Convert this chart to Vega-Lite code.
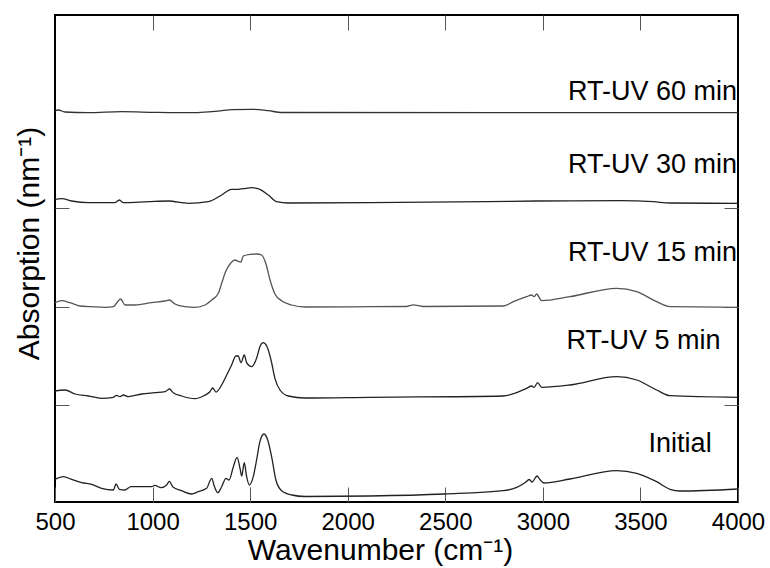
{
  "$schema": "https://vega.github.io/schema/vega-lite/v6.json",
  "width": 683,
  "height": 487,
  "autosize": {"type": "none"},
  "padding": {"left": 55, "top": 15, "right": 32, "bottom": 66},
  "background": "white",
  "config": {
    "view": {"stroke": "black", "strokeWidth": 2},
    "font": "Liberation Sans",
    "axis": {"labelFont": "Liberation Sans", "titleFont": "Liberation Sans", "titleFontWeight": "normal", "labelColor": "black", "titleColor": "black"}
  },
  "datasets": {
    "spectra": [
      {"series": "Initial", "wn": 500, "a": 0.227}, {"series": "Initial", "wn": 543, "a": 0.253}, {"series": "Initial", "wn": 585, "a": 0.227}, {"series": "Initial", "wn": 637, "a": 0.193}, {"series": "Initial", "wn": 688, "a": 0.177}, {"series": "Initial", "wn": 739, "a": 0.137}, {"series": "Initial", "wn": 799, "a": 0.12}, {"series": "Initial", "wn": 813, "a": 0.18}, {"series": "Initial", "wn": 830, "a": 0.127}, {"series": "Initial", "wn": 859, "a": 0.12}, {"series": "Initial", "wn": 889, "a": 0.153}, {"series": "Initial", "wn": 944, "a": 0.153}, {"series": "Initial", "wn": 995, "a": 0.153}, {"series": "Initial", "wn": 1012, "a": 0.167}, {"series": "Initial", "wn": 1043, "a": 0.143}, {"series": "Initial", "wn": 1072, "a": 0.17}, {"series": "Initial", "wn": 1086, "a": 0.207}, {"series": "Initial", "wn": 1103, "a": 0.153}, {"series": "Initial", "wn": 1149, "a": 0.113}, {"series": "Initial", "wn": 1200, "a": 0.08}, {"series": "Initial", "wn": 1234, "a": 0.103}, {"series": "Initial", "wn": 1277, "a": 0.137}, {"series": "Initial", "wn": 1303, "a": 0.237}, {"series": "Initial", "wn": 1316, "a": 0.16}, {"series": "Initial", "wn": 1334, "a": 0.093}, {"series": "Initial", "wn": 1354, "a": 0.153}, {"series": "Initial", "wn": 1376, "a": 0.237}, {"series": "Initial", "wn": 1392, "a": 0.22}, {"series": "Initial", "wn": 1414, "a": 0.353}, {"series": "Initial", "wn": 1433, "a": 0.447}, {"series": "Initial", "wn": 1448, "a": 0.337}, {"series": "Initial", "wn": 1457, "a": 0.26}, {"series": "Initial", "wn": 1470, "a": 0.393}, {"series": "Initial", "wn": 1482, "a": 0.253}, {"series": "Initial", "wn": 1496, "a": 0.17}, {"series": "Initial", "wn": 1516, "a": 0.253}, {"series": "Initial", "wn": 1533, "a": 0.42}, {"series": "Initial", "wn": 1550, "a": 0.603}, {"series": "Initial", "wn": 1571, "a": 0.68}, {"series": "Initial", "wn": 1590, "a": 0.62}, {"series": "Initial", "wn": 1610, "a": 0.453}, {"series": "Initial", "wn": 1632, "a": 0.22}, {"series": "Initial", "wn": 1661, "a": 0.113}, {"series": "Initial", "wn": 1713, "a": 0.07}, {"series": "Initial", "wn": 1781, "a": 0.055}, {"series": "Initial", "wn": 2114, "a": 0.06}, {"series": "Initial", "wn": 2498, "a": 0.08}, {"series": "Initial", "wn": 2797, "a": 0.113}, {"series": "Initial", "wn": 2866, "a": 0.147}, {"series": "Initial", "wn": 2910, "a": 0.195}, {"series": "Initial", "wn": 2930, "a": 0.225}, {"series": "Initial", "wn": 2945, "a": 0.2}, {"series": "Initial", "wn": 2970, "a": 0.26}, {"series": "Initial", "wn": 2985, "a": 0.225}, {"series": "Initial", "wn": 3005, "a": 0.19}, {"series": "Initial", "wn": 3139, "a": 0.23}, {"series": "Initial", "wn": 3378, "a": 0.313}, {"series": "Initial", "wn": 3481, "a": 0.287}, {"series": "Initial", "wn": 3583, "a": 0.203}, {"series": "Initial", "wn": 3652, "a": 0.127}, {"series": "Initial", "wn": 3703, "a": 0.11}, {"series": "Initial", "wn": 4000, "a": 0.13},
      {"series": "RT-UV 5 min", "wn": 500, "a": 1.11}, {"series": "RT-UV 5 min", "wn": 551, "a": 1.12}, {"series": "RT-UV 5 min", "wn": 602, "a": 1.08}, {"series": "RT-UV 5 min", "wn": 671, "a": 1.06}, {"series": "RT-UV 5 min", "wn": 739, "a": 1.037}, {"series": "RT-UV 5 min", "wn": 799, "a": 1.047}, {"series": "RT-UV 5 min", "wn": 816, "a": 1.067}, {"series": "RT-UV 5 min", "wn": 833, "a": 1.053}, {"series": "RT-UV 5 min", "wn": 850, "a": 1.07}, {"series": "RT-UV 5 min", "wn": 876, "a": 1.053}, {"series": "RT-UV 5 min", "wn": 944, "a": 1.08}, {"series": "RT-UV 5 min", "wn": 1012, "a": 1.093}, {"series": "RT-UV 5 min", "wn": 1064, "a": 1.103}, {"series": "RT-UV 5 min", "wn": 1086, "a": 1.13}, {"series": "RT-UV 5 min", "wn": 1106, "a": 1.093}, {"series": "RT-UV 5 min", "wn": 1149, "a": 1.06}, {"series": "RT-UV 5 min", "wn": 1217, "a": 1.033}, {"series": "RT-UV 5 min", "wn": 1260, "a": 1.06}, {"series": "RT-UV 5 min", "wn": 1294, "a": 1.103}, {"series": "RT-UV 5 min", "wn": 1308, "a": 1.14}, {"series": "RT-UV 5 min", "wn": 1325, "a": 1.1}, {"series": "RT-UV 5 min", "wn": 1354, "a": 1.17}, {"series": "RT-UV 5 min", "wn": 1380, "a": 1.27}, {"series": "RT-UV 5 min", "wn": 1405, "a": 1.37}, {"series": "RT-UV 5 min", "wn": 1427, "a": 1.46}, {"series": "RT-UV 5 min", "wn": 1439, "a": 1.46}, {"series": "RT-UV 5 min", "wn": 1453, "a": 1.393}, {"series": "RT-UV 5 min", "wn": 1470, "a": 1.47}, {"series": "RT-UV 5 min", "wn": 1482, "a": 1.393}, {"series": "RT-UV 5 min", "wn": 1508, "a": 1.353}, {"series": "RT-UV 5 min", "wn": 1533, "a": 1.437}, {"series": "RT-UV 5 min", "wn": 1550, "a": 1.553}, {"series": "RT-UV 5 min", "wn": 1567, "a": 1.593}, {"series": "RT-UV 5 min", "wn": 1585, "a": 1.56}, {"series": "RT-UV 5 min", "wn": 1607, "a": 1.42}, {"series": "RT-UV 5 min", "wn": 1627, "a": 1.237}, {"series": "RT-UV 5 min", "wn": 1653, "a": 1.12}, {"series": "RT-UV 5 min", "wn": 1696, "a": 1.06}, {"series": "RT-UV 5 min", "wn": 1781, "a": 1.04}, {"series": "RT-UV 5 min", "wn": 2114, "a": 1.047}, {"series": "RT-UV 5 min", "wn": 2797, "a": 1.06}, {"series": "RT-UV 5 min", "wn": 2866, "a": 1.093}, {"series": "RT-UV 5 min", "wn": 2917, "a": 1.137}, {"series": "RT-UV 5 min", "wn": 2943, "a": 1.16}, {"series": "RT-UV 5 min", "wn": 2955, "a": 1.147}, {"series": "RT-UV 5 min", "wn": 2973, "a": 1.193}, {"series": "RT-UV 5 min", "wn": 2994, "a": 1.147}, {"series": "RT-UV 5 min", "wn": 3139, "a": 1.17}, {"series": "RT-UV 5 min", "wn": 3378, "a": 1.253}, {"series": "RT-UV 5 min", "wn": 3481, "a": 1.22}, {"series": "RT-UV 5 min", "wn": 3583, "a": 1.12}, {"series": "RT-UV 5 min", "wn": 3652, "a": 1.063}, {"series": "RT-UV 5 min", "wn": 4000, "a": 1.047},
      {"series": "RT-UV 15 min", "wn": 500, "a": 1.993}, {"series": "RT-UV 15 min", "wn": 534, "a": 2.013}, {"series": "RT-UV 15 min", "wn": 577, "a": 1.993}, {"series": "RT-UV 15 min", "wn": 628, "a": 1.96}, {"series": "RT-UV 15 min", "wn": 688, "a": 1.953}, {"series": "RT-UV 15 min", "wn": 756, "a": 1.947}, {"series": "RT-UV 15 min", "wn": 799, "a": 1.953}, {"series": "RT-UV 15 min", "wn": 821, "a": 2.003}, {"series": "RT-UV 15 min", "wn": 836, "a": 2.03}, {"series": "RT-UV 15 min", "wn": 859, "a": 1.97}, {"series": "RT-UV 15 min", "wn": 910, "a": 1.97}, {"series": "RT-UV 15 min", "wn": 995, "a": 1.993}, {"series": "RT-UV 15 min", "wn": 1064, "a": 2.01}, {"series": "RT-UV 15 min", "wn": 1086, "a": 2.02}, {"series": "RT-UV 15 min", "wn": 1115, "a": 1.98}, {"series": "RT-UV 15 min", "wn": 1166, "a": 1.953}, {"series": "RT-UV 15 min", "wn": 1217, "a": 1.947}, {"series": "RT-UV 15 min", "wn": 1269, "a": 1.97}, {"series": "RT-UV 15 min", "wn": 1303, "a": 2.02}, {"series": "RT-UV 15 min", "wn": 1337, "a": 2.087}, {"series": "RT-UV 15 min", "wn": 1354, "a": 2.187}, {"series": "RT-UV 15 min", "wn": 1374, "a": 2.303}, {"series": "RT-UV 15 min", "wn": 1402, "a": 2.393}, {"series": "RT-UV 15 min", "wn": 1422, "a": 2.42}, {"series": "RT-UV 15 min", "wn": 1443, "a": 2.403}, {"series": "RT-UV 15 min", "wn": 1453, "a": 2.4}, {"series": "RT-UV 15 min", "wn": 1465, "a": 2.46}, {"series": "RT-UV 15 min", "wn": 1499, "a": 2.477}, {"series": "RT-UV 15 min", "wn": 1533, "a": 2.48}, {"series": "RT-UV 15 min", "wn": 1559, "a": 2.47}, {"series": "RT-UV 15 min", "wn": 1580, "a": 2.387}, {"series": "RT-UV 15 min", "wn": 1602, "a": 2.22}, {"series": "RT-UV 15 min", "wn": 1627, "a": 2.08}, {"series": "RT-UV 15 min", "wn": 1661, "a": 2.013}, {"series": "RT-UV 15 min", "wn": 1713, "a": 1.97}, {"series": "RT-UV 15 min", "wn": 1781, "a": 1.95}, {"series": "RT-UV 15 min", "wn": 2114, "a": 1.953}, {"series": "RT-UV 15 min", "wn": 2300, "a": 1.955}, {"series": "RT-UV 15 min", "wn": 2336, "a": 1.972}, {"series": "RT-UV 15 min", "wn": 2388, "a": 1.955}, {"series": "RT-UV 15 min", "wn": 2797, "a": 1.96}, {"series": "RT-UV 15 min", "wn": 2849, "a": 2.003}, {"series": "RT-UV 15 min", "wn": 2917, "a": 2.053}, {"series": "RT-UV 15 min", "wn": 2943, "a": 2.07}, {"series": "RT-UV 15 min", "wn": 2955, "a": 2.053}, {"series": "RT-UV 15 min", "wn": 2968, "a": 2.08}, {"series": "RT-UV 15 min", "wn": 2994, "a": 2.013}, {"series": "RT-UV 15 min", "wn": 3139, "a": 2.053}, {"series": "RT-UV 15 min", "wn": 3378, "a": 2.137}, {"series": "RT-UV 15 min", "wn": 3481, "a": 2.103}, {"series": "RT-UV 15 min", "wn": 3583, "a": 2.003}, {"series": "RT-UV 15 min", "wn": 3652, "a": 1.953}, {"series": "RT-UV 15 min", "wn": 4000, "a": 1.947},
      {"series": "RT-UV 30 min", "wn": 500, "a": 3.027}, {"series": "RT-UV 30 min", "wn": 534, "a": 3.033}, {"series": "RT-UV 30 min", "wn": 585, "a": 3.01}, {"series": "RT-UV 30 min", "wn": 671, "a": 2.993}, {"series": "RT-UV 30 min", "wn": 807, "a": 2.993}, {"series": "RT-UV 30 min", "wn": 830, "a": 3.02}, {"series": "RT-UV 30 min", "wn": 850, "a": 2.993}, {"series": "RT-UV 30 min", "wn": 978, "a": 3.003}, {"series": "RT-UV 30 min", "wn": 1081, "a": 3.01}, {"series": "RT-UV 30 min", "wn": 1183, "a": 2.987}, {"series": "RT-UV 30 min", "wn": 1286, "a": 3.003}, {"series": "RT-UV 30 min", "wn": 1354, "a": 3.07}, {"series": "RT-UV 30 min", "wn": 1405, "a": 3.127}, {"series": "RT-UV 30 min", "wn": 1439, "a": 3.127}, {"series": "RT-UV 30 min", "wn": 1465, "a": 3.133}, {"series": "RT-UV 30 min", "wn": 1508, "a": 3.143}, {"series": "RT-UV 30 min", "wn": 1550, "a": 3.127}, {"series": "RT-UV 30 min", "wn": 1593, "a": 3.07}, {"series": "RT-UV 30 min", "wn": 1636, "a": 3.003}, {"series": "RT-UV 30 min", "wn": 1696, "a": 2.99}, {"series": "RT-UV 30 min", "wn": 2114, "a": 2.993}, {"series": "RT-UV 30 min", "wn": 2712, "a": 3.003}, {"series": "RT-UV 30 min", "wn": 2968, "a": 3.01}, {"series": "RT-UV 30 min", "wn": 3395, "a": 3.013}, {"series": "RT-UV 30 min", "wn": 3566, "a": 3.003}, {"series": "RT-UV 30 min", "wn": 3652, "a": 2.99}, {"series": "RT-UV 30 min", "wn": 4000, "a": 2.987},
      {"series": "RT-UV 60 min", "wn": 500, "a": 3.913}, {"series": "RT-UV 60 min", "wn": 517, "a": 3.92}, {"series": "RT-UV 60 min", "wn": 551, "a": 3.9}, {"series": "RT-UV 60 min", "wn": 671, "a": 3.893}, {"series": "RT-UV 60 min", "wn": 842, "a": 3.903}, {"series": "RT-UV 60 min", "wn": 1012, "a": 3.897}, {"series": "RT-UV 60 min", "wn": 1217, "a": 3.893}, {"series": "RT-UV 60 min", "wn": 1303, "a": 3.903}, {"series": "RT-UV 60 min", "wn": 1405, "a": 3.923}, {"series": "RT-UV 60 min", "wn": 1508, "a": 3.927}, {"series": "RT-UV 60 min", "wn": 1593, "a": 3.913}, {"series": "RT-UV 60 min", "wn": 1661, "a": 3.895}, {"series": "RT-UV 60 min", "wn": 4000, "a": 3.893}
    ],
    "labels": [
      {"label": "RT-UV 60 min", "wn": 4000, "a": 4.10},
      {"label": "RT-UV 30 min", "wn": 4000, "a": 3.37},
      {"label": "RT-UV 15 min", "wn": 4000, "a": 2.495},
      {"label": "RT-UV 5 min", "wn": 3916, "a": 1.612},
      {"label": "Initial", "wn": 3870, "a": 0.58}
    ]
  },
  "resolve": {"axis": {"x": "independent", "y": "independent"}},
  "layer": [
    {
      "data": {"name": "spectra"},
      "mark": {"type": "line", "strokeWidth": 1.3, "interpolate": "monotone", "clip": true},
      "encoding": {
        "x": {"field": "wn", "type": "quantitative", "scale": {"domain": [500, 4000], "nice": false, "zero": false},
          "axis": {"orient": "bottom", "values": [500, 1000, 1500, 2000, 2500, 3000, 3500, 4000], "format": "d", "domain": false, "grid": false, "tickSize": -15, "tickColor": "#555", "tickWidth": 1, "labelFontSize": 24, "labelPadding": 23, "labelFlush": false, "labelOverlap": false, "title": "Wavenumber (cm⁻¹)", "titleFontSize": 30, "titleX": 325, "titleY": 57, "titleAnchor": null, "titleBaseline": "alphabetic"}},
        "y": {"field": "a", "type": "quantitative", "scale": {"domain": [0, 4.87], "nice": false, "zero": false},
          "axis": {"orient": "left", "values": [0.97, 1.95, 2.94], "labels": false, "domain": false, "grid": false, "tickSize": -14, "tickColor": "#555", "tickWidth": 1, "title": "Absorption (nm⁻¹)", "titleFontSize": 30, "titleX": -17, "titleY": 228, "titleAngle": -90, "titleBaseline": "alphabetic", "titleAlign": "center"}},
        "detail": {"field": "series", "type": "nominal"},
        "color": {"field": "series", "type": "nominal", "legend": null,
          "scale": {"domain": ["Initial", "RT-UV 5 min", "RT-UV 15 min", "RT-UV 30 min", "RT-UV 60 min"], "range": ["#222222", "#222222", "#555555", "#222222", "#333333"]}}
      }
    },
    {
      "data": {"name": "labels"},
      "mark": {"type": "text", "align": "right", "baseline": "middle", "fontSize": 27, "font": "Liberation Sans", "color": "black", "dx": -1},
      "encoding": {
        "x": {"field": "wn", "type": "quantitative", "scale": {"domain": [500, 4000], "nice": false, "zero": false},
          "axis": {"orient": "top", "values": [1000, 1500, 2000, 2500, 3000, 3500], "labels": false, "domain": false, "grid": false, "tickSize": -15, "tickColor": "#555", "tickWidth": 1, "title": null}},
        "y": {"field": "a", "type": "quantitative", "scale": {"domain": [0, 4.87], "nice": false, "zero": false},
          "axis": {"orient": "right", "values": [0.97, 1.95, 2.94], "labels": false, "domain": false, "grid": false, "tickSize": -14, "tickColor": "#555", "tickWidth": 1, "title": null}},
        "text": {"field": "label", "type": "nominal"}
      }
    }
  ]
}
